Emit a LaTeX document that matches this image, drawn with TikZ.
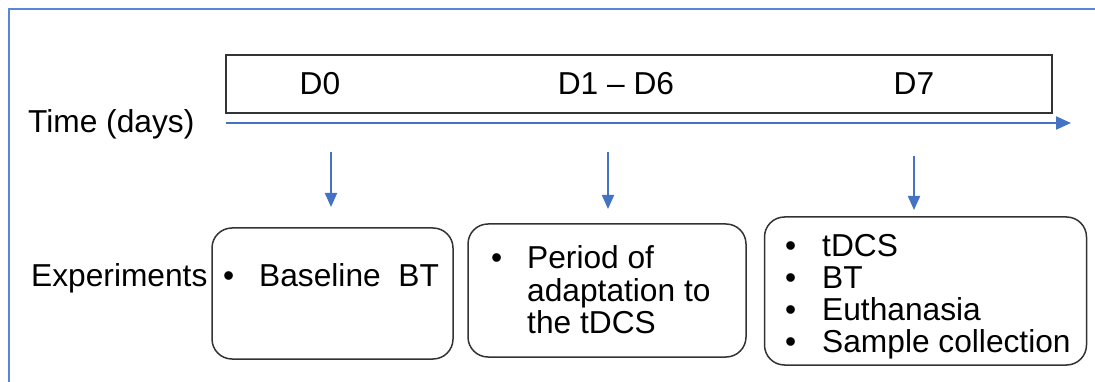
\documentclass[tikz,border=0pt]{standalone}
\usepackage{fontspec}
\setmainfont{Liberation Sans}
\usetikzlibrary{arrows.meta}
\definecolor{obl}{HTML}{4472C4}
\definecolor{frm}{HTML}{5B86D6}
\definecolor{dk}{HTML}{333333}
\tikzset{
  txt/.style={anchor=base west, inner sep=0pt, font=\fontsize{31.7}{32}\selectfont, text=black},
  ctxt/.style={anchor=base, inner sep=0pt, font=\fontsize{31.7}{32}\selectfont, text=black},
  evbox/.style={draw=dk, line width=1.5pt, rounded corners=20pt, inner sep=0pt},
  daybox/.style={draw=dk, line width=1.5pt, inner sep=0pt},
  darrow/.style={draw=obl, line width=2pt, -{Triangle[length=14pt,width=12pt]}},
  tarrow/.style={draw=obl, line width=2.2pt, -{Triangle[length=15pt,width=13pt]}},
}
\begin{document}
\begin{tikzpicture}[x=1pt,y=-1pt]
\useasboundingbox (0,0) rectangle (1095,382);
% frame
\draw[frm, line width=1.5pt] (9,382) -- (9,9) -- (1095,9);
% day bar
\node[daybox, minimum width=826pt, minimum height=58pt] (bar) at (639,84) {};
\node[ctxt] (d0) at (320,95) {D0};
\node[ctxt] (d16) at (616,95) {D1 – D6};
\node[ctxt] (d7) at (914,95) {D7};
% time axis
\coordinate (t0) at (226,123);
\coordinate (t1) at (1071,123);
\draw[tarrow] (t0) -- (t1);
\node[txt] (time) at (28,133) {Time (days)};
% down arrows
\coordinate (a1s) at (331,152); \coordinate (a1e) at (331,207);
\coordinate (a2s) at (608,152); \coordinate (a2e) at (608,209);
\coordinate (a3s) at (914,156); \coordinate (a3e) at (914,210);
\draw[darrow] (a1s) -- (a1e);
\draw[darrow] (a2s) -- (a2e);
\draw[darrow] (a3s) -- (a3e);
% experiment boxes
\node[evbox, minimum width=241pt, minimum height=131pt] (b1) at (332.5,293.5) {};
\node[evbox, minimum width=278pt, minimum height=133pt] (b2) at (607,290.5) {};
\node[evbox, minimum width=322pt, minimum height=148pt] (b3) at (925.5,291) {};
\node[txt] (exp) at (31,286) {Experiments};
% box 1
\node[txt] (p1) at (223,286) {\textbullet};
\node[txt] (t1a) at (259,286) {Baseline\ \ BT};
% box 2
\node[txt] (p2) at (491,269) {\textbullet};
\node[txt] (t2a) at (527,269) {Period of};
\node[txt] (t2b) at (527,301) {adaptation to};
\node[txt] (t2c) at (527,333) {the tDCS};
% box 3
\node[txt] (p3a) at (785,256) {\textbullet};
\node[txt] (p3b) at (785,288) {\textbullet};
\node[txt] (p3c) at (785,320) {\textbullet};
\node[txt] (p3d) at (785,352) {\textbullet};
\node[txt] (t3a) at (822,256) {tDCS};
\node[txt] (t3b) at (822,288) {BT};
\node[txt] (t3c) at (822,320) {Euthanasia};
\node[txt] (t3d) at (822,352) {Sample collection};
\end{tikzpicture}
\end{document}
